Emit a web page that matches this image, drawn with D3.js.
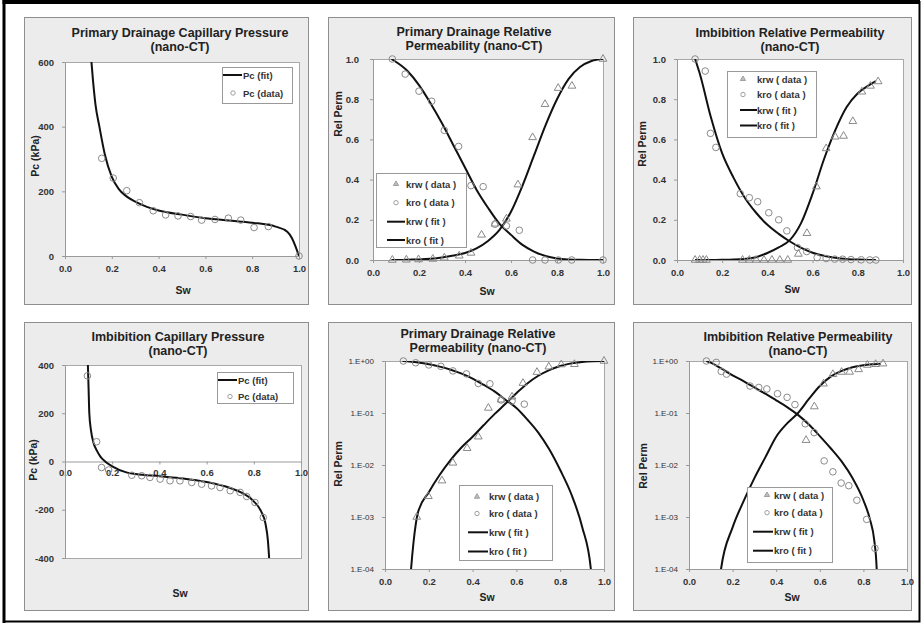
<!DOCTYPE html>
<html>
<head>
<meta charset="utf-8">
<title>nano-CT capillary pressure and relative permeability</title>
<script src="https://d3js.org/d3.v7.min.js"></script>
<style>
  body { margin: 0; background: #fff; }
  svg { display: block; }
  text { font-family: "Liberation Sans", Arial, sans-serif; }
</style>
</head>
<body>
<svg width="922" height="623"></svg>
<script>
// ---- data ----
const swTicks = [0, 0.2, 0.4, 0.6, 0.8, 1.0];
const pcDrainTicks = [0, 200, 400, 600];
const pcImbTicks = [-400, -200, 0, 200, 400];
const relPermTicks = [0, 0.2, 0.4, 0.6, 0.8, 1.0];
const logTicks = [1, 0.1, 0.01, 0.001, 0.0001];
const logTickLabels = ['1.E+00', '1.E-01', '1.E-02', '1.E-03', '1.E-04'];

// primary drainage capillary pressure
const pdPcDataSw = [0.157, 0.206, 0.264, 0.318, 0.377, 0.43, 0.483, 0.537, 0.584, 0.641, 0.698, 0.751, 0.808, 0.869, 1.0];
const pdPcData   = [302, 241, 202, 165, 140, 127, 124, 122, 111, 113, 117, 111, 88, 91, 0];
const pdPcFitSw  = [0.113, 0.12, 0.13, 0.147, 0.17, 0.2, 0.23, 0.26, 0.3, 0.35, 0.4, 0.5, 0.6, 0.7, 0.8, 0.9, 0.95, 0.97, 0.985, 1.0];
const pdPcFit    = [600, 540, 470, 400, 315, 245, 207, 186, 168, 152, 141, 128, 117, 110, 103, 91, 75, 55, 30, 0];

// imbibition capillary pressure
const imPcDataSw = [0.095, 0.134, 0.155, 0.185, 0.283, 0.325, 0.36, 0.403, 0.445, 0.487, 0.537, 0.579, 0.621, 0.657, 0.70, 0.742, 0.77, 0.805, 0.84];
const imPcData   = [355, 82, -25, -35, -57, -59, -66, -73, -80, -80, -87, -94, -101, -108, -121, -128, -145, -170, -232];
const imPcFitSw  = [0.097, 0.1, 0.103, 0.11, 0.12, 0.135, 0.15, 0.17, 0.2, 0.26, 0.3, 0.4, 0.5, 0.6, 0.7, 0.75, 0.8, 0.83, 0.85, 0.86, 0.865];
const imPcFit    = [400, 300, 200, 130, 80, 45, 20, 0, -20, -45, -52, -61, -70, -85, -110, -130, -165, -205, -260, -330, -400];

// primary drainage relative permeability
const drKrwDataSw = [0.084, 0.145, 0.198, 0.26, 0.31, 0.375, 0.426, 0.472, 0.53, 0.58, 0.63, 0.694, 0.748, 0.805, 0.865, 1.0];
const drKrwData   = [0, 0.001, 0.0025, 0.005, 0.011, 0.021, 0.035, 0.125, 0.18, 0.205, 0.375, 0.61, 0.775, 0.855, 0.866, 1.0];
const drKroDataSw = [0.084, 0.14, 0.2, 0.255, 0.31, 0.372, 0.426, 0.479, 0.53, 0.58, 0.636, 0.694, 0.748, 0.806, 0.864, 1.0];
const drKroData   = [1.0, 0.925, 0.84, 0.79, 0.645, 0.565, 0.37, 0.365, 0.178, 0.17, 0.148, 0, 0, 0, 0, 0];
const drKrwFitSw  = [0.08, 0.119, 0.13, 0.15, 0.2, 0.25, 0.3, 0.35, 0.4, 0.45, 0.5, 0.55, 0.6, 0.65, 0.7, 0.75, 0.8, 0.85, 0.9, 0.95, 1.0];
const drKrwFit    = [1e-7, 1e-4, 0.00032, 0.0012, 0.003, 0.0065, 0.0126, 0.022, 0.035, 0.058, 0.095, 0.15, 0.24, 0.37, 0.52, 0.67, 0.8, 0.9, 0.96, 0.99, 1.0];
const drKroFitSw  = [0.08, 0.15, 0.2, 0.25, 0.3, 0.35, 0.4, 0.45, 0.5, 0.55, 0.6, 0.65, 0.7, 0.75, 0.8, 0.85, 0.9, 0.94, 0.97, 1.0];
const drKroFit    = [1.0, 0.94, 0.87, 0.78, 0.68, 0.57, 0.46, 0.35, 0.26, 0.18, 0.125, 0.075, 0.042, 0.02, 0.008, 0.0028, 0.00065, 0.0001, 1e-6, 1e-9];

// imbibition relative permeability
const imKrwDataSw = [0.08, 0.1, 0.115, 0.13, 0.29, 0.32, 0.35, 0.385, 0.42, 0.455, 0.49, 0.537, 0.575, 0.617, 0.66, 0.7, 0.737, 0.778, 0.818, 0.856, 0.89];
const imKrwData   = [0, 0, 0, 0, 0, 0, 0, 0, 0, 0, 0, 0.03, 0.133, 0.365, 0.555, 0.613, 0.617, 0.69, 0.837, 0.866, 0.888];
const imKroDataSw = [0.08, 0.125, 0.148, 0.172, 0.28, 0.32, 0.357, 0.406, 0.45, 0.486, 0.533, 0.574, 0.62, 0.66, 0.698, 0.733, 0.77, 0.815, 0.853, 0.88];
const imKroData   = [1.0, 0.94, 0.63, 0.56, 0.33, 0.31, 0.29, 0.235, 0.2, 0.145, 0.062, 0.042, 0.012, 0.0074, 0.0045, 0.004, 0.0021, 0.0009, 0.00025, 0];
const imKrwFitSw  = [0.08, 0.1, 0.147, 0.2, 0.25, 0.3, 0.35, 0.4, 0.45, 0.5, 0.55, 0.6, 0.65, 0.7, 0.75, 0.8, 0.85, 0.88];
const imKrwFit    = [1e-9, 1e-7, 1e-4, 0.00063, 0.002, 0.0056, 0.014, 0.035, 0.063, 0.1, 0.186, 0.33, 0.5, 0.645, 0.76, 0.83, 0.87, 0.89];
const imKroFitSw  = [0.08, 0.1, 0.15, 0.2, 0.25, 0.3, 0.35, 0.4, 0.45, 0.5, 0.55, 0.6, 0.65, 0.7, 0.75, 0.8, 0.83, 0.85, 0.861, 0.87, 0.88];
const imKroFit    = [1.0, 0.93, 0.71, 0.53, 0.41, 0.31, 0.235, 0.175, 0.13, 0.092, 0.06, 0.036, 0.021, 0.0117, 0.0056, 0.0021, 0.0009, 0.00035, 0.0001, 1e-6, 1e-9];

const zip = (xs, ys) => xs.map((v, i) => [v, ys[i]]);

const svg = d3.select('svg');
svg.append('rect').attr('width', 922).attr('height', 623).attr('fill', '#fff');

const fmt1 = d3.format('.1f');
const fmtInt = d => String(d);   // plain hyphen minus, as in the figure
const FONT = '"Liberation Sans", Arial, sans-serif';
const markStroke = '#8a8a8a';

const panels = [
  { // top left
    box: [24, 17, 284, 287], plot: [65, 62, 299, 256],
    yDomain: [0, 600], yTicks: pcDrainTicks, yFormat: fmtInt,
    title: ['Primary Drainage Capillary Pressure', '(nano-CT)'], titleX: 180, titleY: [37, 51],
    yLabel: 'Pc (kPa)', yLabelPos: [35, 156], xLabelPos: [183, 294],
    series: [
      { kind: 'line', data: zip(pdPcFitSw, pdPcFit) },
      { kind: 'circle', data: zip(pdPcDataSw, pdPcData) }
    ],
    legend: { box: [222, 67, 70, 36], markX: 233, lineX: [223, 242], textX: 243,
      rows: [{ kind: 'line', label: 'Pc (fit)', cy: 75 }, { kind: 'circle', label: 'Pc (data)', cy: 93 }] }
  },
  { // top middle
    box: [328, 17, 286, 287], plot: [373, 59, 603, 260],
    yDomain: [0, 1], yTicks: relPermTicks, yFormat: fmt1, yPad: 11,
    title: ['Primary Drainage Relative', 'Permeability (nano-CT)'], titleX: 474, titleY: [36, 50],
    yLabel: 'Rel Perm', yLabelPos: [338, 114], xLabelPos: [487, 295],
    series: [
      { kind: 'line', data: zip(drKrwFitSw, drKrwFit) },
      { kind: 'line', data: zip(drKroFitSw, drKroFit) },
      { kind: 'tri', data: zip(drKrwDataSw, drKrwData) },
      { kind: 'circle', data: zip(drKroDataSw, drKroData) }
    ],
    legend: { box: [376, 173, 90, 74], markX: 396, lineX: [387, 405], textX: 406,
      rows: [{ kind: 'tri', label: 'krw ( data )', cy: 184 }, { kind: 'circle', label: 'kro ( data )', cy: 202.7 },
             { kind: 'line', label: 'krw ( fit )', cy: 221.7 }, { kind: 'line', label: 'kro ( fit )', cy: 240 }] }
  },
  { // top right
    box: [633, 17, 278, 287], plot: [677, 59, 903, 260],
    yDomain: [0, 1], yTicks: relPermTicks, yFormat: fmt1,
    title: ['Imbibition Relative Permeability', '(nano-CT)'], titleX: 790, titleY: [37, 51],
    yLabel: 'Rel Perm', yLabelPos: [642, 144], xLabelPos: [792, 293],
    series: [
      { kind: 'line', data: zip(imKrwFitSw, imKrwFit) },
      { kind: 'line', data: zip(imKroFitSw, imKroFit) },
      { kind: 'tri', data: zip(imKrwDataSw, imKrwData) },
      { kind: 'circle', data: zip(imKroDataSw, imKroData) }
    ],
    legend: { box: [727, 71, 89, 66], markX: 743, lineX: [740, 757], textX: 757,
      rows: [{ kind: 'tri', label: 'krw ( data )', cy: 79 }, { kind: 'circle', label: 'kro ( data )', cy: 94.5 },
             { kind: 'line', label: 'krw ( fit )', cy: 110 }, { kind: 'line', label: 'kro ( fit )', cy: 125.5 }] }
  },
  { // bottom left
    box: [24, 322, 284, 288], plot: [65, 365, 301, 558],
    yDomain: [-400, 400], yTicks: pcImbTicks, yFormat: fmtInt, xAxisAt: 0, xPad: 5,
    title: ['Imbibition Capillary Pressure', '(nano-CT)'], titleX: 178, titleY: [341, 355],
    yLabel: 'Pc (kPa)', yLabelPos: [33, 460], xLabelPos: [180, 597],
    series: [
      { kind: 'line', data: zip(imPcFitSw, imPcFit) },
      { kind: 'circle', data: zip(imPcDataSw, imPcData) }
    ],
    legend: { box: [217, 372, 76, 31], markX: 230, lineX: [218, 237], textX: 238,
      rows: [{ kind: 'line', label: 'Pc (fit)', cy: 380 }, { kind: 'circle', label: 'Pc (data)', cy: 396.5 }] }
  },
  { // bottom middle
    box: [328, 322, 286, 288], plot: [385, 361, 604, 569],
    log: true, yDomain: [1e-4, 1], yTicks: logTicks, yFormat: (d, i) => logTickLabels[i],
    title: ['Primary Drainage Relative', 'Permeability (nano-CT)'], titleX: 478, titleY: [338, 352],
    yLabel: 'Rel Perm', yLabelPos: [338, 464], xLabelPos: [487, 601],
    series: [
      { kind: 'line', data: zip(drKrwFitSw, drKrwFit) },
      { kind: 'line', data: zip(drKroFitSw, drKroFit) },
      { kind: 'tri', data: zip(drKrwDataSw, drKrwData) },
      { kind: 'circle', data: zip(drKroDataSw, drKroData) }
    ],
    legend: { box: [459, 485, 93, 75], markX: 477, lineX: [468, 488], textX: 489,
      rows: [{ kind: 'tri', label: 'krw ( data )', cy: 496.7 }, { kind: 'circle', label: 'kro ( data )', cy: 513.5 },
             { kind: 'line', label: 'krw ( fit )', cy: 532.3 }, { kind: 'line', label: 'kro ( fit )', cy: 551.5 }] }
  },
  { // bottom right
    box: [633, 322, 278, 288], plot: [689, 361, 907, 569],
    log: true, yDomain: [1e-4, 1], yTicks: logTicks, yFormat: (d, i) => logTickLabels[i],
    title: ['Imbibition Relative Permeability', '(nano-CT)'], titleX: 798, titleY: [341, 355],
    yLabel: 'Rel Perm', yLabelPos: [643, 466], xLabelPos: [792, 601],
    series: [
      { kind: 'line', data: zip(imKrwFitSw, imKrwFit) },
      { kind: 'line', data: zip(imKroFitSw, imKroFit) },
      { kind: 'tri', data: zip(imKrwDataSw, imKrwData) },
      { kind: 'circle', data: zip(imKroDataSw, imKroData) }
    ],
    legend: { box: [747, 487, 85, 75], markX: 767, lineX: [753, 773], textX: 774,
      rows: [{ kind: 'tri', label: 'krw ( data )', cy: 495 }, { kind: 'circle', label: 'kro ( data )', cy: 512.7 },
             { kind: 'line', label: 'krw ( fit )', cy: 531.7 }, { kind: 'line', label: 'kro ( fit )', cy: 550.7 }] }
  }
];

const triPath = d3.symbol(d3.symbolTriangle, 26)();
const triSmall = d3.symbol(d3.symbolTriangle, 12)();

function drawPanel(p, i) {
  const g = svg.append('g');
  const [bx, by, bw, bh] = p.box;
  g.append('rect').attr('x', bx + 0.5).attr('y', by + 0.5).attr('width', bw).attr('height', bh)
    .attr('fill', '#ececec').attr('stroke', '#8f8f8f');

  const [px0, py0, px1, py1] = p.plot;
  const x = d3.scaleLinear().domain([0, 1]).range([px0, px1]);
  const y = (p.log ? d3.scaleLog() : d3.scaleLinear()).domain(p.yDomain).range([py1, py0]);

  g.append('rect').attr('x', px0 + 0.5).attr('y', py0 + 0.5).attr('width', px1 - px0).attr('height', py1 - py0)
    .attr('fill', '#fff').attr('stroke', '#a8a8a8');

  g.append('clipPath').attr('id', 'clip' + i)
    .append('rect').attr('x', px0).attr('y', py0).attr('width', px1 - px0).attr('height', py1 - py0);

  // axes
  const xAxisY = p.xAxisAt !== undefined ? y(p.xAxisAt) : py1;
  const xg = g.append('g').attr('transform', `translate(0,${xAxisY})`)
    .call(d3.axisBottom(x).tickValues(swTicks).tickFormat(fmt1).tickSize(3).tickSizeOuter(0).tickPadding(p.xPad || 6));
  const yg = g.append('g').attr('transform', `translate(${px0},0)`)
    .call(d3.axisLeft(y).tickValues(p.yTicks).tickFormat(p.yFormat).tickSize(3).tickSizeOuter(0).tickPadding(p.yPad || 8));

  [xg, yg].forEach(a => {
    a.attr('font-family', FONT).attr('font-size', 9.5).attr('font-weight', 'bold');
    a.select('.domain').attr('stroke', '#9a9a9a');
    a.selectAll('.tick line').attr('stroke', '#9a9a9a');
    a.selectAll('.tick text').attr('fill', '#333');
  });
  if (p.log) yg.attr('font-size', 8).attr('font-weight', 'normal');

  // fitted curves, clipped to plot area
  const line = d3.line().x(d => x(d[0])).y(d => y(d[1])).curve(d3.curveMonotoneX);
  const lg = g.append('g').attr('clip-path', `url(#clip${i})`);
  const mg = g.append('g');
  p.series.forEach(s => {
    const pts = p.log ? s.data.filter(d => d[1] > 0) : s.data;
    if (s.kind === 'line') {
      lg.append('path').datum(pts).attr('d', line)
        .attr('fill', 'none').attr('stroke', '#111').attr('stroke-width', 2);
    } else if (s.kind === 'circle') {
      mg.selectAll(null).data(pts).join('circle')
        .attr('cx', d => x(d[0])).attr('cy', d => y(d[1])).attr('r', 3.3)
        .attr('fill', 'none').attr('stroke', markStroke).attr('stroke-width', 1);
    } else {
      mg.selectAll(null).data(pts).join('path')
        .attr('d', triPath).attr('transform', d => `translate(${x(d[0])},${y(d[1])})`)
        .attr('fill', 'none').attr('stroke', markStroke).attr('stroke-width', 1);
    }
  });

  // legend
  const L = p.legend;
  const leg = g.append('g');
  leg.append('rect').attr('x', L.box[0] + 0.5).attr('y', L.box[1] + 0.5).attr('width', L.box[2]).attr('height', L.box[3])
    .attr('fill', '#fff').attr('stroke', '#999');
  L.rows.forEach(r => {
    if (r.kind === 'line') {
      leg.append('line').attr('x1', L.lineX[0]).attr('x2', L.lineX[1]).attr('y1', r.cy).attr('y2', r.cy)
        .attr('stroke', '#111').attr('stroke-width', 2);
    } else if (r.kind === 'circle') {
      leg.append('circle').attr('cx', L.markX).attr('cy', r.cy).attr('r', 2.2)
        .attr('fill', 'none').attr('stroke', '#a0a0a0');
    } else {
      leg.append('path').attr('d', triSmall).attr('transform', `translate(${L.markX},${r.cy})`)
        .attr('fill', '#bdbdbd').attr('stroke', '#a0a0a0');
    }
    leg.append('text').attr('x', L.textX).attr('y', r.cy + 3.5)
      .attr('font-size', 9.5).attr('font-weight', 'bold').attr('fill', '#333').text(r.label);
  });

  // titles
  p.title.forEach((t, k) => {
    g.append('text').attr('x', p.titleX).attr('y', p.titleY[k]).attr('text-anchor', 'middle')
      .attr('font-size', 12.5).attr('font-weight', 'bold').attr('fill', '#222').text(t);
  });
  g.append('text').attr('transform', `translate(${p.yLabelPos[0] + 4},${p.yLabelPos[1]}) rotate(-90)`)
    .attr('text-anchor', 'middle').attr('font-size', 10.5).attr('font-weight', 'bold').attr('fill', '#222')
    .text(p.yLabel);
  g.append('text').attr('x', p.xLabelPos[0]).attr('y', p.xLabelPos[1]).attr('text-anchor', 'middle')
    .attr('font-size', 10.5).attr('font-weight', 'bold').attr('fill', '#222').text('Sw');
}

panels.forEach(drawPanel);

// outer frame of the figure
svg.append('path').attr('d', 'M4,623V2H919.5V621.5H4').attr('fill', 'none').attr('stroke', '#000').attr('stroke-width', 2);
svg.append('line').attr('x1', 2.5).attr('x2', 920).attr('y1', 2).attr('y2', 2).attr('stroke', '#000').attr('stroke-width', 4);
svg.append('line').attr('x1', 4).attr('x2', 4).attr('y1', 0).attr('y2', 623).attr('stroke', '#000').attr('stroke-width', 3);
</script>
</body>
</html>
